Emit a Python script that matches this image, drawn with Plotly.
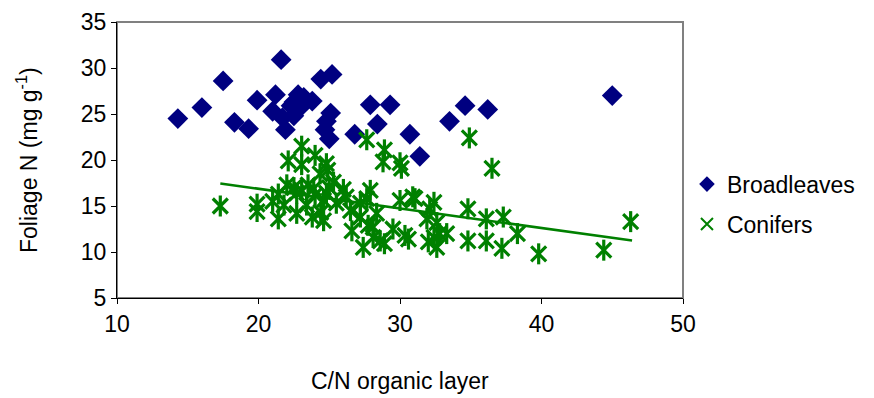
import plotly.graph_objects as go

# Broadleaves (C/N organic layer, foliage N)
broad_x = [14.3, 16.0, 17.5, 18.3, 19.3, 19.9, 21.2, 21.6, 21.0, 21.7, 21.9, 22.3, 22.8, 22.5,
           23.2, 23.8, 24.4, 25.2, 25.1, 24.8, 24.7, 25.0, 26.8, 27.9, 28.4, 29.3, 30.7, 31.4,
           33.5, 34.6, 36.2, 45.0, 23.0, 22.5]
broad_y = [24.5, 25.7, 28.6, 24.1, 23.4, 26.5, 27.1, 30.9, 25.3, 24.6, 23.3, 25.9, 27.1, 26.3,
           26.8, 26.4, 28.8, 29.3, 25.1, 24.2, 23.3, 22.3, 22.8, 26.0, 23.9, 26.0, 22.8, 20.4,
           24.2, 25.9, 25.5, 27.0, 25.8, 24.8]

# Conifers
con_x = [17.3, 19.9, 19.9, 21.0, 21.4, 21.4, 21.8, 22.0, 22.1, 22.7, 22.7, 23.05, 23.05, 23.05,
         23.4, 23.8, 23.9, 24.0, 24.35, 24.4, 24.6, 24.8, 24.8, 24.9, 24.6, 25.5, 26.0, 26.2,
         26.5, 26.6, 27.2, 27.2, 27.4, 27.65, 27.65, 27.75, 27.9, 28.1, 28.35, 28.6, 28.9, 28.8,
         28.9, 29.5, 30.0, 30.1, 30.0, 30.35, 30.6, 30.9, 31.06, 31.9, 32.0, 32.1, 32.4, 32.4,
         32.6, 32.6, 32.8, 33.3, 34.8, 34.8, 34.9, 36.1, 36.1, 36.5, 37.3, 37.2, 38.3, 39.8,
         44.4, 46.3, 22.5, 23.5, 24.0, 25.0, 25.3, 28.1]
con_y = [15.0, 15.2, 14.4, 15.5, 16.3, 13.6, 15.1, 17.3, 19.9, 16.4, 14.2, 21.5, 19.5, 16.7,
         15.1, 13.8, 16.9, 20.5, 18.5, 14.3, 13.4, 16.4, 19.6, 18.9, 15.6, 15.3, 16.8, 16.0,
         14.5, 12.3, 15.3, 13.8, 10.5, 22.2, 15.8, 12.9, 16.7, 11.6, 14.2, 11.2, 21.1, 19.8,
         10.9, 12.5, 15.6, 19.1, 19.7, 11.8, 11.4, 16.0, 15.8, 13.6, 11.1, 14.7, 15.4, 11.6,
         13.2, 10.5, 12.0, 12.0, 14.7, 11.2, 22.4, 13.6, 11.2, 19.1, 13.8, 10.4, 12.0, 9.8,
         10.2, 13.3, 17.0, 17.3, 16.2, 17.0, 17.6, 12.7]

# Linear trend for conifers (end points)
trend_x = [17.3, 46.4]
trend_y = [17.45, 11.24]

x_ticks = [10, 20, 30, 40, 50]
y_ticks = [5, 10, 15, 20, 25, 30, 35]

NAVY = "#000080"
GREEN = "#008000"
FONT = "Liberation Sans, Arial, sans-serif"
FS = 23

fig = go.Figure()
fig.add_trace(go.Scatter(x=broad_x, y=broad_y, mode="markers", name="Broadleaves",
                         legendgroup="b",
                         marker=dict(symbol="diamond", size=16, color=NAVY, line=dict(width=0))))
fig.add_trace(go.Scatter(x=trend_x, y=trend_y, mode="lines", showlegend=False,
                         line=dict(color=GREEN, width=2.5), hoverinfo="skip"))
fig.add_trace(go.Scatter(x=con_x, y=con_y, mode="markers", name="Conifers",
                         legendgroup="c",
                         marker=dict(symbol="x-thin-open", size=15, color=GREEN,
                                     line=dict(width=3.2, color=GREEN))))
fig.add_trace(go.Scatter(x=con_x, y=con_y, mode="markers", showlegend=False,
                         legendgroup="c",
                         marker=dict(symbol="line-ns-open", size=15, color=GREEN,
                                     line=dict(width=3.2, color=GREEN))))

# The page body has an 8px default margin, so the figure is sized/offset to compensate.
fig.update_layout(
    width=866, height=390,
    margin=dict(l=109, r=191, t=14, b=100, autoexpand=False),
    paper_bgcolor="white", plot_bgcolor="white",
    font=dict(family=FONT, size=FS, color="black"),
    showlegend=True,
    legend=dict(x=1.007, xanchor="left", y=0.34, yanchor="middle",
                font=dict(size=FS), traceorder="grouped", tracegroupgap=7,
                bgcolor="rgba(0,0,0,0)", itemsizing="constant"),
    xaxis=dict(range=[10, 50], tickvals=x_ticks, ticks="outside", ticklen=5,
               showgrid=False, zeroline=False, showline=True, linecolor="black",
               linewidth=1, tickcolor="black", tickfont=dict(size=FS), automargin=False),
    yaxis=dict(range=[5, 35], tickvals=y_ticks, ticks="outside", ticklen=5,
               showgrid=False, zeroline=False, showline=True, linecolor="black",
               linewidth=1, tickcolor="black", tickfont=dict(size=FS), automargin=False),
    shapes=[dict(type="rect", xref="paper", yref="paper", x0=0, x1=1, y0=0, y1=1,
                 line=dict(color="#808080", width=2), layer="below")],
    annotations=[
        dict(text="C/N organic layer", xref="paper", yref="paper", x=0.5, y=-0.30,
             xanchor="center", yanchor="middle", showarrow=False, font=dict(size=FS)),
        dict(text="Foliage N (mg g<sup>-1</sup>)", xref="paper", yref="paper", x=-0.159,
             y=0.5, xanchor="center", yanchor="middle", textangle=-90, showarrow=False,
             font=dict(size=FS)),
    ],
)

fig.write_html("out.html")
